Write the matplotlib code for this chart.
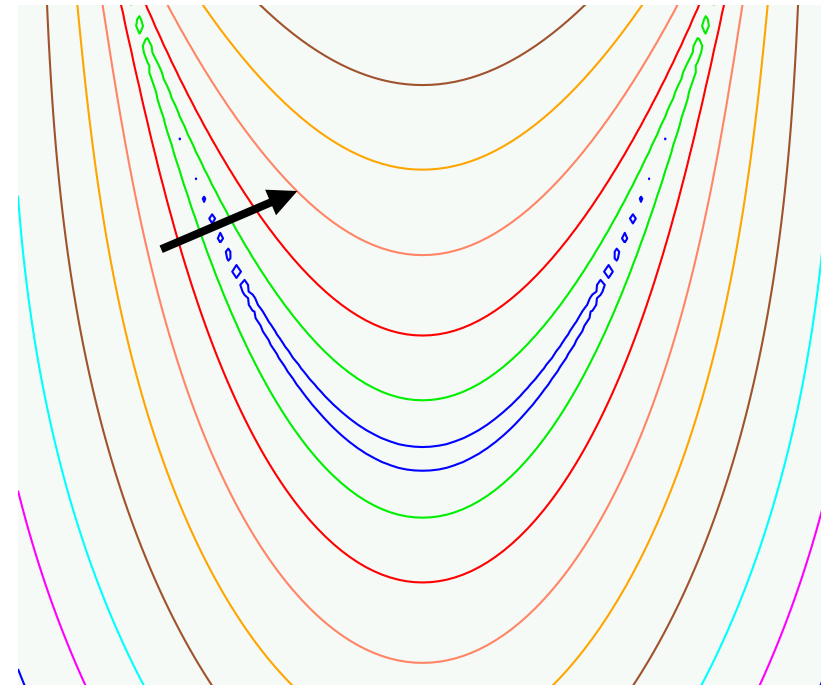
import numpy as np
import matplotlib
matplotlib.use("Agg")
import matplotlib.pyplot as plt
from matplotlib.patches import FancyArrowPatch

# ---- data -------------------------------------------------------------
# sampling grid of the field (coarse, like the original)
grid_x = np.linspace(-2.0, 2.0, 101)
grid_y = np.linspace(-1.1, 2.1, 108)
along_valley_weight = 0.085          # weight of the y^2 term

# contour levels (innermost to outermost) and their colours
levels = [0.23, 0.52, 0.772, 1.03, 1.286, 1.539, 1.797, 2.037, 2.30]
level_colors = ["#0000ff", "#00ee00", "#ff0000", "#ff8566", "#ffa500",
                "#a0522d", "#00ffff", "#ff00ff", "#0000ff"]

# arrow (tail -> head) in data coordinates
arrow_tail = (-1.305, 0.940)
arrow_head = (-0.606, 1.212)

# view window
x_view = (-2.0, 1.97)
y_view = (-1.018, 2.045)

# ---- figure -----------------------------------------------------------
W, H = 821, 685
fig = plt.figure(figsize=(W / 100, H / 100), dpi=100, facecolor="white")
ax = fig.add_axes([18 / W, 0.0, 1 - 18 / W, (H - 5) / H])
ax.set_facecolor("#f5faf6")

X, Y = np.meshgrid(grid_x, grid_y)
F = np.sqrt(np.abs(Y - X ** 2)) + along_valley_weight * Y ** 2

ax.contour(X, Y, F, levels=levels, colors=level_colors,
           linewidths=1.5, antialiased=True)

arrow = FancyArrowPatch(arrow_tail, arrow_head,
                        arrowstyle="simple,head_length=1.05,head_width=1.0,tail_width=0.29",
                        mutation_scale=20, color="black", lw=0, zorder=5)
ax.add_patch(arrow)

ax.set_xlim(*x_view)
ax.set_ylim(*y_view)
ax.set_xticks([])
ax.set_yticks([])
for s in ax.spines.values():
    s.set_visible(False)

fig.savefig("out.png", dpi=100, facecolor="white")
